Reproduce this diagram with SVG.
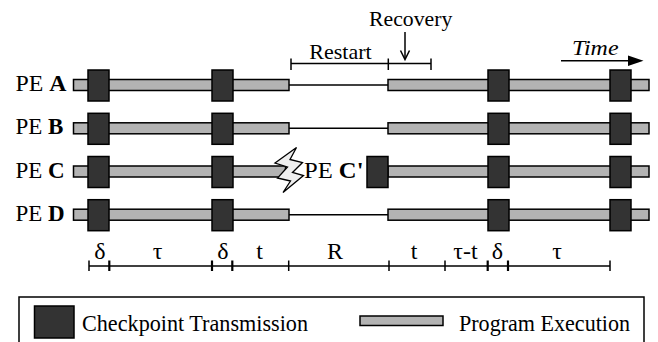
<svg xmlns="http://www.w3.org/2000/svg" width="658" height="342" viewBox="0 0 658 342">
  <style>
    text { font-family: "Liberation Serif", "Times New Roman", serif; fill: #000; }
    .lbl { font-size: 23px; }
    .ann { font-size: 22px; }
    .sc { font-size: 24px; }
    .leg { font-size: 24px; }
    .bar { fill: #b3b3b3; stroke: #000; stroke-width: 1.5; }
    .cp { fill: #333333; stroke: #000; stroke-width: 1.5; }
    .thin { stroke: #000; stroke-width: 1.5; fill: none; }
    .tick { stroke: #000; stroke-width: 1.5; }
    .btick { stroke: #000; stroke-width: 2.2; }
  </style>
  <defs>
    <rect id="cpbox" x="0" y="-15" width="21" height="31" class="cp"/>
  </defs>
  <rect width="658" height="342" fill="#fff"/>

  <!-- PE A -->
  <g id="pe-a">
    <text class="lbl" x="15.5" y="91" textLength="51" lengthAdjust="spacingAndGlyphs">PE <tspan font-weight="bold">A</tspan></text>
    <rect class="bar" x="73.5" y="79.5" width="215.5" height="11"/>
    <line class="thin" x1="289" y1="85" x2="388" y2="85"/>
    <rect class="bar" x="388" y="79.5" width="261" height="11"/>
    <use href="#cpbox" x="88" y="85"/>
    <use href="#cpbox" x="212" y="85"/>
    <use href="#cpbox" x="488" y="85"/>
    <use href="#cpbox" x="610" y="85"/>
  </g>

  <!-- PE B -->
  <g id="pe-b">
    <text class="lbl" x="15.5" y="134.3">PE <tspan font-weight="bold">B</tspan></text>
    <rect class="bar" x="73.5" y="122.8" width="215.5" height="11"/>
    <line class="thin" x1="289" y1="128.3" x2="388" y2="128.3"/>
    <rect class="bar" x="388" y="122.8" width="261" height="11"/>
    <use href="#cpbox" x="88" y="128.3"/>
    <use href="#cpbox" x="212" y="128.3"/>
    <use href="#cpbox" x="488" y="128.3"/>
    <use href="#cpbox" x="610" y="128.3"/>
  </g>

  <!-- PE C -->
  <g id="pe-c">
    <text class="lbl" x="15.5" y="177.5">PE <tspan font-weight="bold">C</tspan></text>
    <rect class="bar" x="73.5" y="166" width="212" height="11"/>
    <use href="#cpbox" x="88" y="171.5"/>
    <use href="#cpbox" x="212" y="171.5"/>
    <polygon points="296.5,147.5 275,163 287.5,167 277.5,178 290.5,181 283,192.5 303.5,175.5 292.5,172.5 302.5,162.5 290,159.5" fill="#eeeeee" stroke="#000" stroke-width="1.3" stroke-linejoin="miter"/>
  </g>

  <!-- PE C' -->
  <g id="pe-c-prime">
    <text class="lbl" x="304" y="177.5" textLength="59.5" lengthAdjust="spacingAndGlyphs">PE <tspan font-weight="bold">C'</tspan></text>
    <rect class="bar" x="388" y="166" width="261" height="11"/>
    <use href="#cpbox" x="367" y="171.5"/>
    <use href="#cpbox" x="488" y="171.5"/>
    <use href="#cpbox" x="610" y="171.5"/>
  </g>

  <!-- PE D -->
  <g id="pe-d">
    <text class="lbl" x="15.5" y="220.7">PE <tspan font-weight="bold">D</tspan></text>
    <rect class="bar" x="73.5" y="209.2" width="215.5" height="11"/>
    <line class="thin" x1="289" y1="214.7" x2="388" y2="214.7"/>
    <rect class="bar" x="388" y="209.2" width="261" height="11"/>
    <use href="#cpbox" x="88" y="214.7"/>
    <use href="#cpbox" x="212" y="214.7"/>
    <use href="#cpbox" x="488" y="214.7"/>
    <use href="#cpbox" x="610" y="214.7"/>
  </g>

  <!-- connectors / annotations -->
  <g id="connectors">
    <line class="thin" x1="291" y1="63.5" x2="431" y2="63.5"/>
    <line class="tick" x1="291" y1="58.5" x2="291" y2="70"/>
    <line class="tick" x1="388.3" y1="58.5" x2="388.3" y2="70"/>
    <line class="tick" x1="431" y1="58.5" x2="431" y2="70"/>
    <line class="thin" x1="405" y1="32" x2="405" y2="59"/>
    <polyline class="thin" points="400.5,50.5 405,59.5 409.5,50.5"/>
    <line class="thin" x1="561" y1="60.7" x2="630" y2="60.7"/>
    <polygon points="628,55.5 643.5,60.7 628,66" fill="#000"/>
    <line class="thin" x1="89" y1="266" x2="610" y2="266"/>
    <line class="tick" x1="89" y1="260.5" x2="89" y2="271"/>
    <line class="btick" x1="109.3" y1="260.5" x2="109.3" y2="271"/>
    <line class="btick" x1="212" y1="260.5" x2="212" y2="271"/>
    <line class="btick" x1="232.3" y1="260.5" x2="232.3" y2="271"/>
    <line class="tick" x1="288.7" y1="260.5" x2="288.7" y2="271"/>
    <line class="tick" x1="389" y1="260.5" x2="389" y2="271"/>
    <line class="tick" x1="445" y1="260.5" x2="445" y2="271"/>
    <line class="btick" x1="487.7" y1="260.5" x2="487.7" y2="271"/>
    <line class="btick" x1="508" y1="260.5" x2="508" y2="271"/>
    <line class="tick" x1="610" y1="260.5" x2="610" y2="271"/>
  </g>

  <g id="labels">
    <text class="ann" x="309.3" y="59" textLength="62.4" lengthAdjust="spacingAndGlyphs">Restart</text>
    <text class="ann" x="369" y="26" textLength="83.3" lengthAdjust="spacingAndGlyphs">Recovery</text>
    <text class="ann" x="572" y="55" font-style="italic" textLength="46.5" lengthAdjust="spacingAndGlyphs">Time</text>
    <g class="sc" text-anchor="middle">
      <text x="100" y="258.5">δ</text>
      <text x="157.5" y="258.5">τ</text>
      <text x="223" y="258.5">δ</text>
      <text x="259.5" y="258.5">t</text>
      <text x="335" y="258.5">R</text>
      <text x="414" y="258.5">t</text>
      <text x="465.5" y="258.5">τ-t</text>
      <text x="497.5" y="258.5">δ</text>
      <text x="557" y="258.5">τ</text>
    </g>
  </g>

  <g id="legend">
    <rect x="19" y="297" width="625" height="60" fill="none" stroke="#000" stroke-width="1.5"/>
    <rect x="34.5" y="306" width="39.5" height="32" class="cp"/>
    <text class="leg" x="82" y="330.5" textLength="226" lengthAdjust="spacingAndGlyphs">Checkpoint Transmission</text>
    <rect x="360" y="316" width="83" height="9.5" class="bar"/>
    <text class="leg" x="459" y="330.5" textLength="171" lengthAdjust="spacingAndGlyphs">Program Execution</text>
  </g>
</svg>
